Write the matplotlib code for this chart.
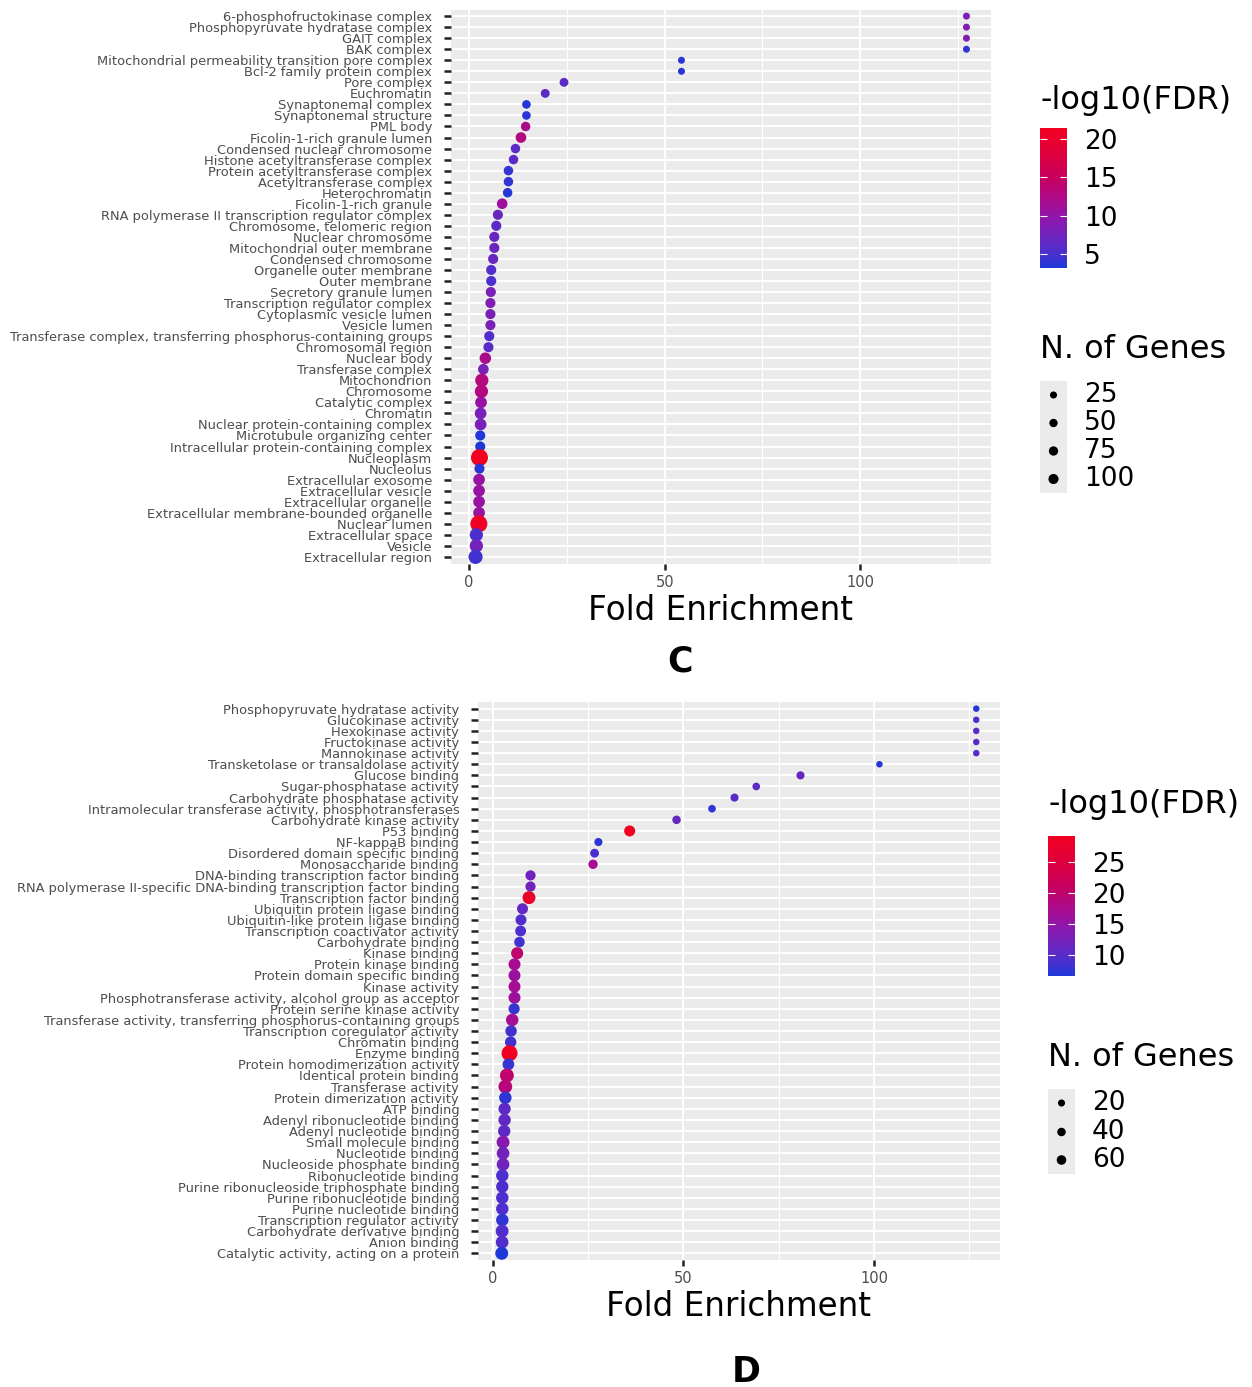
import numpy as np
import matplotlib
matplotlib.use('Agg')
import matplotlib.pyplot as plt
from matplotlib.colors import LinearSegmentedColormap

# ---------------- data: panel C ----------------
cats_c = [
    "6-phosphofructokinase complex", "Phosphopyruvate hydratase complex", "GAIT complex",
    "BAK complex", "Mitochondrial permeability transition pore complex",
    "Bcl-2 family protein complex", "Pore complex", "Euchromatin", "Synaptonemal complex",
    "Synaptonemal structure", "PML body", "Ficolin-1-rich granule lumen",
    "Condensed nuclear chromosome", "Histone acetyltransferase complex",
    "Protein acetyltransferase complex", "Acetyltransferase complex", "Heterochromatin",
    "Ficolin-1-rich granule", "RNA polymerase II transcription regulator complex",
    "Chromosome, telomeric region", "Nuclear chromosome", "Mitochondrial outer membrane",
    "Condensed chromosome", "Organelle outer membrane", "Outer membrane",
    "Secretory granule lumen", "Transcription regulator complex",
    "Cytoplasmic vesicle lumen", "Vesicle lumen",
    "Transferase complex, transferring phosphorus-containing groups", "Chromosomal region",
    "Nuclear body", "Transferase complex", "Mitochondrion", "Chromosome", "Catalytic complex",
    "Chromatin", "Nuclear protein-containing complex", "Microtubule organizing center",
    "Intracellular protein-containing complex", "Nucleoplasm", "Nucleolus",
    "Extracellular exosome", "Extracellular vesicle", "Extracellular organelle",
    "Extracellular membrane-bounded organelle", "Nuclear lumen", "Extracellular space",
    "Vesicle", "Extracellular region"]
fe_c = [127.1, 127.1, 127.1, 127.1, 54.3, 54.3, 24.3, 19.5, 14.7, 14.7,
        14.5, 13.3, 11.9, 11.4, 10.1, 10.1, 9.9, 8.5, 7.4, 7.0,
        6.5, 6.5, 6.2, 5.7, 5.7, 5.6, 5.5, 5.5, 5.5, 5.2,
        5.0, 4.2, 3.7, 3.3, 3.2, 3.1, 3.0, 3.0, 2.9, 2.9,
        2.7, 2.7, 2.6, 2.6, 2.6, 2.6, 2.55, 1.9, 1.9, 1.7]
fdr_c = [8, 9, 9, 4, 3.5, 3.5, 6, 6, 3.5, 3.5,
         12, 13, 6, 6, 4, 4, 3.5, 11, 7, 6,
         7, 7, 7, 5.5, 5, 8, 8.5, 8, 8, 5.5,
         6, 12, 8, 13, 13, 10.5, 8, 8, 3.2, 3.1,
         21.5, 3.6, 10.5, 10.5, 10.5, 10.5, 21, 5, 7.5, 4.5]
genes_c = [3, 3, 3, 3, 3, 3, 7, 7, 6, 6,
           10, 18, 10, 10, 10, 10, 10, 18, 14, 14,
           14, 14, 14, 14, 14, 14, 14, 14, 14, 14,
           14, 26, 18, 47, 47, 28, 28, 28, 14, 14,
           115, 14, 28, 28, 28, 28, 115, 47, 47, 60]
size_breaks_c = [25, 50, 75, 100]
color_ticks_c = [5, 10, 15, 20]

# ---------------- data: panel D ----------------
cats_d = [
    "Phosphopyruvate hydratase activity", "Glucokinase activity", "Hexokinase activity",
    "Fructokinase activity", "Mannokinase activity", "Transketolase or transaldolase activity",
    "Glucose binding", "Sugar-phosphatase activity", "Carbohydrate phosphatase activity",
    "Intramolecular transferase activity, phosphotransferases", "Carbohydrate kinase activity",
    "P53 binding", "NF-kappaB binding", "Disordered domain specific binding",
    "Monosaccharide binding", "DNA-binding transcription factor binding",
    "RNA polymerase II-specific DNA-binding transcription factor binding",
    "Transcription factor binding", "Ubiquitin protein ligase binding",
    "Ubiquitin-like protein ligase binding", "Transcription coactivator activity",
    "Carbohydrate binding", "Kinase binding", "Protein kinase binding",
    "Protein domain specific binding", "Kinase activity",
    "Phosphotransferase activity, alcohol group as acceptor", "Protein serine kinase activity",
    "Transferase activity, transferring phosphorus-containing groups",
    "Transcription coregulator activity", "Chromatin binding", "Enzyme binding",
    "Protein homodimerization activity", "Identical protein binding", "Transferase activity",
    "Protein dimerization activity", "ATP binding", "Adenyl ribonucleotide binding",
    "Adenyl nucleotide binding", "Small molecule binding", "Nucleotide binding",
    "Nucleoside phosphate binding", "Ribonucleotide binding",
    "Purine ribonucleoside triphosphate binding", "Purine ribonucleotide binding",
    "Purine nucleotide binding", "Transcription regulator activity",
    "Carbohydrate derivative binding", "Anion binding", "Catalytic activity, acting on a protein"]
fe_d = [126.8, 126.8, 126.8, 126.8, 126.8, 101.4, 80.7, 69.1, 63.4, 57.5,
        48.2, 35.9, 27.7, 26.7, 26.3, 9.9, 9.9, 9.5, 7.8, 7.4,
        7.3, 7.0, 6.4, 5.7, 5.7, 5.7, 5.7, 5.6, 5.1, 4.8,
        4.7, 4.4, 4.1, 3.7, 3.3, 3.3, 3.1, 3.1, 3.0, 2.7,
        2.7, 2.7, 2.5, 2.5, 2.5, 2.5, 2.5, 2.45, 2.45, 2.35]
fdr_d = [7, 10, 10, 10, 10, 7, 11, 10.5, 10, 7.5,
         11, 29.1, 7.5, 9, 17, 12, 12, 28, 11, 9.5,
         9, 8.5, 20, 17, 16, 17, 16, 8, 17, 8.5,
         8.5, 29, 8, 20, 19, 7.5, 10.5, 10.5, 10.5, 14,
         12, 12, 9, 9, 9, 9, 7.5, 9.5, 9.5, 6.6]
genes_d = [2, 2, 2, 2, 2, 2, 4, 3, 4, 3,
           5, 17, 4, 6, 8, 12, 12, 32, 17, 17,
           16, 14, 25, 24, 24, 24, 24, 18, 28, 20,
           20, 68, 22, 42, 40, 28, 26, 27, 27, 32,
           30, 30, 28, 27, 28, 28, 28, 32, 30, 32]
size_breaks_d = [20, 40, 60]
color_ticks_d = [10, 15, 20, 25]

# ---------------- helpers ----------------
W, H = 1252, 1387
fig = plt.figure(figsize=(W / 100, H / 100), dpi=100)
plt.rcParams['font.family'] = ['DejaVu Sans']

cmap = LinearSegmentedColormap.from_list('fdr', [
    (0.0, '#1E38D8'), (0.1, '#4A30CF'), (0.25, '#7422BA'), (0.375, '#9214A8'),
    (0.5, '#AE0A88'), (0.65, '#C8005E'), (0.8, '#DC0040'), (1.0, '#F20020')])


def rect(x0, y0, x1, y1):
    return [x0 / W, 1 - y1 / H, (x1 - x0) / W, (y1 - y0) / H]


def diam_px(v, vmin, vmax, dmin, dmax):
    v = np.asarray(v, float)
    return dmin + (dmax - dmin) * np.sqrt(np.clip((v - vmin) / (vmax - vmin), 0, 1))


def panel(cats, fe, fdr, genes, prect, cbrect, cticks, title_y, size_title_y,
          keyrect, size_breaks, key_ys, xlab_y, letter, letter_xy, dmin, dmax):
    n = len(cats)
    lo, hi = min(fe), max(fe)
    pad = (hi - lo) * 0.05
    ax = fig.add_axes(rect(*prect))
    ax.set_facecolor('#EBEBEB')
    ax.set_xlim(lo - pad, hi + pad)
    ax.set_ylim(n - 1 + 0.6, -0.6)
    ax.set_yticks(range(n))
    ax.set_yticklabels(cats, fontsize=9.35, color='#4D4D4D')
    ax.set_xticks([0, 50, 100])
    ax.set_xticklabels(['0', '50', '100'], fontsize=10.5, color='#4D4D4D')
    ax.set_xticks([25, 75, 125], minor=True)
    ax.grid(which='major', color='white', lw=1.4)
    ax.grid(which='minor', axis='x', color='white', lw=0.8)
    ax.set_axisbelow(True)
    for s in ax.spines.values():
        s.set_visible(False)
    ax.tick_params(axis='y', length=5, width=1.8, color='#222222', pad=8.5)
    ax.tick_params(axis='x', length=4, width=1.8, color='#222222', pad=4)
    ax.tick_params(which='minor', length=0)
    gmin, gmax = min(genes), max(genes)
    d = diam_px(genes, gmin, gmax, dmin, dmax) * 0.72
    vmin, vmax = min(fdr), max(fdr)
    ax.scatter(fe, range(n), s=d ** 2, c=fdr, cmap=cmap, vmin=vmin, vmax=vmax,
               linewidths=0, zorder=3)
    cx = (prect[0] + prect[2]) / 2
    fig.text(cx / W, 1 - xlab_y / H, 'Fold Enrichment', fontsize=23.5, ha='center', va='center')
    fig.text(letter_xy[0] / W, 1 - letter_xy[1] / H, letter, fontsize=25, fontweight='bold',
             ha='center', va='center')

    # colorbar
    cax = fig.add_axes(rect(*cbrect))
    sm = plt.cm.ScalarMappable(cmap=cmap, norm=plt.Normalize(vmin, vmax))
    cb = fig.colorbar(sm, cax=cax, ticks=cticks)
    cb.outline.set_visible(False)
    cax.tick_params(which='both', direction='in', length=5, width=0.8, color='white',
                    left=True, right=True, labelsize=19, pad=12)
    fig.text(cbrect[0] / W, 1 - title_y / H, '-log10(FDR)', fontsize=23, ha='left', va='center')

    # size legend
    fig.text(keyrect[0] / W, 1 - size_title_y / H, 'N. of Genes', fontsize=23,
             ha='left', va='center')
    kax = fig.add_axes(rect(*keyrect))
    kax.set_facecolor('#EBEBEB')
    kax.set_xlim(0, 1)
    kax.set_ylim(keyrect[3], keyrect[1])
    kax.set_xticks([])
    kax.set_yticks([])
    for s in kax.spines.values():
        s.set_visible(False)
    kd = diam_px(size_breaks, gmin, gmax, dmin, dmax) * 0.72 * 0.62
    kax.scatter([0.5] * len(size_breaks), key_ys, s=kd ** 2, color='black', linewidths=0)
    for b, yy in zip(size_breaks, key_ys):
        fig.text((keyrect[2] + 17) / W, 1 - yy / H, str(b), fontsize=19, ha='left', va='center')


panel(cats_c, fe_c, fdr_c, genes_c,
      prect=(451, 9.5, 991, 563.5), cbrect=(1040, 128, 1067, 268), cticks=color_ticks_c,
      title_y=101, size_title_y=350, keyrect=(1040, 381, 1067, 493),
      size_breaks=size_breaks_c, key_ys=[395, 423, 451, 479],
      xlab_y=610, letter='C', letter_xy=(680, 662), dmin=7.0, dmax=17.0)

panel(cats_d, fe_d, fdr_d, genes_d,
      prect=(478, 702, 1000, 1260), cbrect=(1048, 836, 1075, 976), cticks=color_ticks_d,
      title_y=804, size_title_y=1058, keyrect=(1048, 1089, 1075, 1174),
      size_breaks=size_breaks_d, key_ys=[1103, 1132, 1160],
      xlab_y=1307, letter='D', letter_xy=(746, 1372), dmin=6.5, dmax=16.0)

fig.savefig('out.png', dpi=100)
